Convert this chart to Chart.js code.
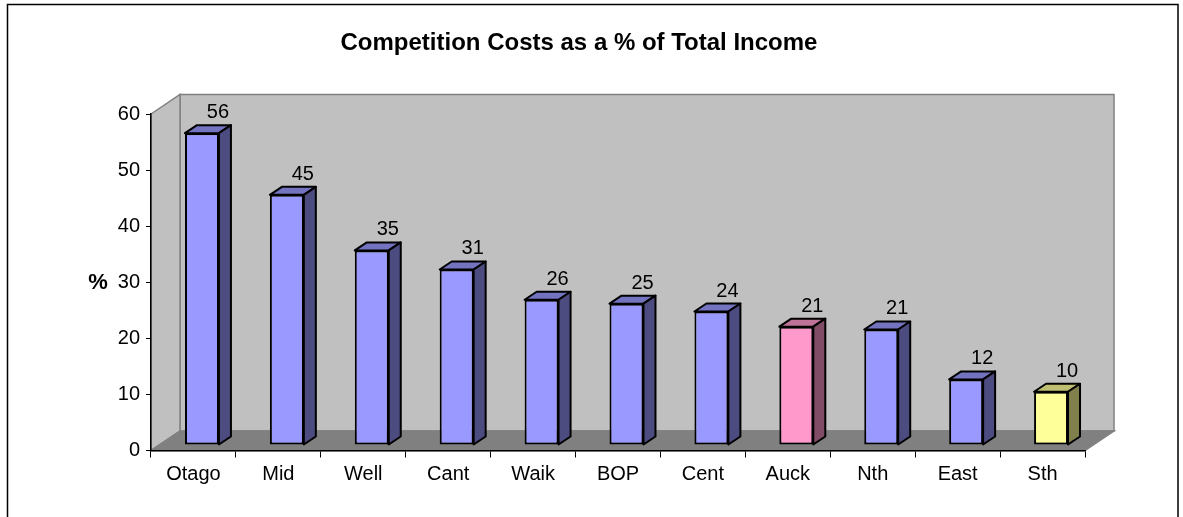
<!DOCTYPE html>
<html>
<head>
<meta charset="utf-8">
<script src="https://cdn.jsdelivr.net/npm/chart.js@4.4.1/dist/chart.umd.min.js"></script>
<style>
  html, body { margin: 0; padding: 0; background: #fff; }
  canvas { display: block; }
</style>
</head>
<body>
<canvas id="myChart" width="1183" height="517"></canvas>
<script>
const ctx = document.getElementById('myChart');

const regions = ['Otago', 'Mid', 'Well', 'Cant', 'Waik', 'BOP', 'Cent', 'Auck', 'Nth', 'East', 'Sth'];
const costPercent = [55.6, 44.6, 34.7, 31.3, 25.9, 25.2, 23.8, 21.1, 20.6, 11.7, 9.5];

const frontColors = ['#9999FF', '#9999FF', '#9999FF', '#9999FF', '#9999FF', '#9999FF', '#9999FF', '#FF99CC', '#9999FF', '#9999FF', '#FFFF99'];
const topColors = ['#7373BF', '#7373BF', '#7373BF', '#7373BF', '#7373BF', '#7373BF', '#7373BF', '#BF7399', '#7373BF', '#7373BF', '#BFBF73'];
const sideColors = ['#4C4C80', '#4C4C80', '#4C4C80', '#4C4C80', '#4C4C80', '#4C4C80', '#4C4C80', '#804C66', '#4C4C80', '#4C4C80', '#80804C'];

const FONT = "'Liberation Sans', Arial, sans-serif";

// depth of the box (walls/floor) and of each bar
const wallDX = 29, wallDY = 19.5;
const barShiftX = 8.5, barShiftY = 5.5;
const barDX = 12, barDY = 8;

const threeD = {
  id: 'threeD',
  beforeDraw(chart) {
    const c = chart.ctx;
    const a = chart.chartArea;
    c.save();
    // outer frame
    c.strokeStyle = '#000';
    c.lineWidth = 1.5;
    c.strokeRect(7.5, 4.5, 1170.5, 600);

    c.strokeStyle = '#808080';
    c.lineWidth = 1.5;
    // back wall
    c.fillStyle = '#C0C0C0';
    c.fillRect(a.left + wallDX, a.top - wallDY, a.right - a.left, a.bottom - a.top);
    c.strokeRect(a.left + wallDX, a.top - wallDY, a.right - a.left, a.bottom - a.top);
    // left wall
    c.beginPath();
    c.moveTo(a.left, a.top);
    c.lineTo(a.left + wallDX, a.top - wallDY);
    c.lineTo(a.left + wallDX, a.bottom - wallDY);
    c.lineTo(a.left, a.bottom);
    c.closePath();
    c.fillStyle = '#C0C0C0';
    c.fill();
    c.stroke();
    // floor
    c.beginPath();
    c.moveTo(a.left, a.bottom);
    c.lineTo(a.right, a.bottom);
    c.lineTo(a.right + wallDX, a.bottom - wallDY);
    c.lineTo(a.left + wallDX, a.bottom - wallDY);
    c.closePath();
    c.fillStyle = '#808080';
    c.fill();
    c.stroke();
    c.restore();
  },
  beforeDatasetsDraw(chart) {
    chart.ctx.save();
    chart.ctx.translate(barShiftX, -barShiftY);
  },
  afterDatasetsDraw(chart) {
    const c = chart.ctx;
    const meta = chart.getDatasetMeta(0);
    c.lineWidth = 2;
    c.strokeStyle = '#000';
    c.lineJoin = 'round';
    meta.data.forEach((bar, i) => {
      const { x, y, base, width } = bar.getProps(['x', 'y', 'base', 'width'], true);
      const l = x - width / 2, r = x + width / 2;
      // top face
      c.beginPath();
      c.moveTo(l, y);
      c.lineTo(l + barDX, y - barDY);
      c.lineTo(r + barDX, y - barDY);
      c.lineTo(r, y);
      c.closePath();
      c.fillStyle = topColors[i];
      c.fill();
      c.stroke();
      // side face
      c.beginPath();
      c.moveTo(r, y);
      c.lineTo(r + barDX, y - barDY);
      c.lineTo(r + barDX, base - barDY);
      c.lineTo(r, base);
      c.closePath();
      c.fillStyle = sideColors[i];
      c.fill();
      c.stroke();
      // value label
      c.fillStyle = '#000';
      c.font = '20px ' + FONT;
      c.textAlign = 'center';
      c.textBaseline = 'alphabetic';
      c.fillText(String(Math.round(costPercent[i])), x + 16, y - 15);
    });
    c.restore();
  },
  afterDraw(chart) {
    const c = chart.ctx;
    c.save();
    c.fillStyle = '#000';
    c.font = 'bold 22px ' + FONT;
    c.textAlign = 'center';
    c.textBaseline = 'middle';
    c.fillText('%', 98, 283);
    c.restore();
  }
};

const data = {
  labels: regions,
  datasets: [{
    data: costPercent,
    backgroundColor: frontColors,
    borderColor: '#000',
    borderWidth: 2,
    borderSkipped: false,
    barPercentage: 0.4,
    categoryPercentage: 1,
    clip: false,
  }],
};

const config = {
  type: 'bar',
  data: data,
  options: {
    responsive: false,
    animation: false,
    devicePixelRatio: 1,
    layout: { padding: { left: 73, right: 98, top: 0, bottom: 0 } },
    scales: {
      x: {
        afterFit: (scale) => { scale.height = 66.5; },
        grid: { drawOnChartArea: false, offset: true, tickLength: 7, color: '#000', lineWidth: 1 },
        border: { display: true, color: '#000', width: 1.5 },
        ticks: { color: '#000', font: { family: FONT, size: 20 }, padding: 5, maxRotation: 0, autoSkip: false },
      },
      y: {
        min: 0,
        max: 60,
        afterFit: (scale) => { scale.width = 78; },
        grid: { drawOnChartArea: false, tickLength: 5, color: '#000', lineWidth: 1 },
        border: { display: true, color: '#000', width: 1.5 },
        ticks: { stepSize: 10, color: '#000', font: { family: FONT, size: 20 }, padding: 6 },
      },
    },
    plugins: {
      legend: { display: false },
      tooltip: { enabled: false },
      title: {
        display: true,
        text: 'Competition Costs as a % of Total Income',
        color: '#000',
        font: { family: FONT, size: 24, weight: 'bold' },
        padding: { top: 29, bottom: 56.2 },
      },
    },
  },
  plugins: [threeD],
};

new Chart(ctx, config);
</script>
</body>
</html>
